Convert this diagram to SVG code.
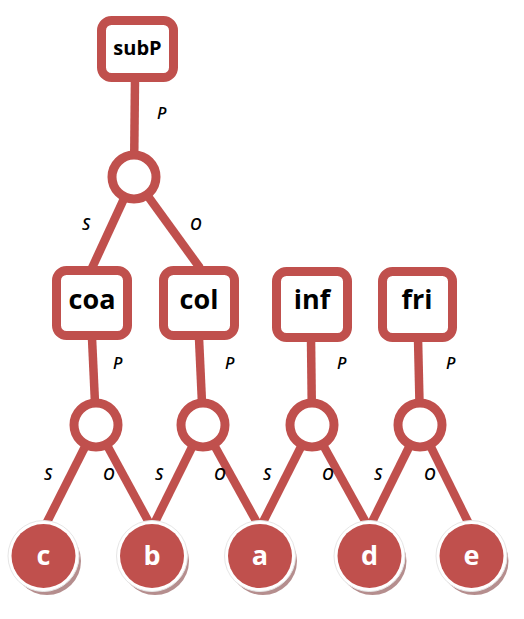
<svg xmlns="http://www.w3.org/2000/svg" width="524" height="619" viewBox="0 0 524 619">
<style>
.edge{stroke:#C0504D;stroke-width:8.5;fill:none;stroke-linecap:butt}
.box{fill:#fff;stroke:#C0504D;stroke-width:9}
.join{fill:#fff;stroke:#C0504D;stroke-width:9}
.lbl{font-family:"Open Sans","Liberation Sans",sans-serif;font-weight:bold;fill:#000;text-anchor:middle}
.ent{font-family:"Open Sans","Liberation Sans",sans-serif;font-weight:bold;fill:#fff;font-size:27px;text-anchor:middle}
.el{font-family:"Open Sans","Liberation Sans",sans-serif;font-style:italic;font-weight:600;font-size:16px;fill:#000}
.shadow{fill:#b58e8e}
.ring{fill:#fff;stroke:#e6e6e6;stroke-width:1}
.disc{fill:#C0504D}
</style>
<rect width="524" height="619" fill="#fff"/>
<g id="connectors">
<line class="edge" x1="135" y1="78" x2="134" y2="177"/>
<line class="edge" x1="134" y1="177" x2="92" y2="268"/>
<line class="edge" x1="134" y1="177" x2="200" y2="268"/>
<line class="edge" x1="92" y1="338" x2="96" y2="425"/>
<line class="edge" x1="199" y1="338" x2="203" y2="425"/>
<line class="edge" x1="311" y1="338" x2="312" y2="425"/>
<line class="edge" x1="418" y1="338" x2="420" y2="425"/>
<line class="edge" x1="96" y1="425" x2="44" y2="528"/>
<line class="edge" x1="96" y1="425" x2="152" y2="528"/>
<line class="edge" x1="203" y1="425" x2="152" y2="528"/>
<line class="edge" x1="203" y1="425" x2="260" y2="528"/>
<line class="edge" x1="312" y1="425" x2="260" y2="528"/>
<line class="edge" x1="312" y1="425" x2="369" y2="528"/>
<line class="edge" x1="420" y1="425" x2="369" y2="528"/>
<line class="edge" x1="420" y1="425" x2="471" y2="528"/>
<text class="el" x="157" y="119">P</text>
<text class="el" x="82" y="230">S</text>
<text class="el" x="190" y="230">O</text>
<text class="el" x="113" y="369">P</text>
<text class="el" x="225" y="369">P</text>
<text class="el" x="337" y="369">P</text>
<text class="el" x="446" y="369">P</text>
<text class="el" x="44" y="480">S</text>
<text class="el" x="103" y="480">O</text>
<text class="el" x="155" y="480">S</text>
<text class="el" x="214" y="480">O</text>
<text class="el" x="263" y="480">S</text>
<text class="el" x="322" y="480">O</text>
<text class="el" x="374" y="480">S</text>
<text class="el" x="424" y="480">O</text>
</g>
<g id="subP"><rect class="box" x="101.5" y="20.5" width="72" height="57" rx="10"/><text class="lbl" x="137.5" y="55" font-size="20">subP</text></g>
<g id="j0"><circle class="join" cx="134" cy="177" r="22"/></g>
<g id="coa"><rect class="box" x="56.5" y="270.5" width="71" height="65" rx="10"/><text class="lbl" x="92" y="309" font-size="27">coa</text></g>
<g id="col"><rect class="box" x="163.5" y="270.5" width="71" height="65" rx="10"/><text class="lbl" x="199" y="309" font-size="27">col</text></g>
<g id="inf"><rect class="box" x="276.5" y="271.5" width="71" height="66" rx="10"/><text class="lbl" x="312" y="309" font-size="27">inf</text></g>
<g id="fri"><rect class="box" x="382.5" y="271.5" width="70" height="66" rx="10"/><text class="lbl" x="417" y="309" font-size="27">fri</text></g>
<g id="j1"><circle class="join" cx="96" cy="425" r="22"/></g>
<g id="j2"><circle class="join" cx="203" cy="425" r="22"/></g>
<g id="j3"><circle class="join" cx="312" cy="425" r="22"/></g>
<g id="j4"><circle class="join" cx="420" cy="425" r="22"/></g>
<g id="c"><circle class="shadow" cx="47" cy="561" r="34"/><circle class="ring" cx="43.5" cy="556" r="35.5"/><circle class="disc" cx="43.5" cy="556" r="32"/><text class="ent" x="43.5" y="565">c</text></g>
<g id="b"><circle class="shadow" cx="155" cy="561" r="34"/><circle class="ring" cx="152" cy="556" r="35.5"/><circle class="disc" cx="152" cy="556" r="32"/><text class="ent" x="152" y="565">b</text></g>
<g id="a"><circle class="shadow" cx="263" cy="561" r="34"/><circle class="ring" cx="260" cy="556" r="35.5"/><circle class="disc" cx="260" cy="556" r="32"/><text class="ent" x="260" y="565">a</text></g>
<g id="d"><circle class="shadow" cx="372.5" cy="561" r="34"/><circle class="ring" cx="369.5" cy="556" r="35.5"/><circle class="disc" cx="369.5" cy="556" r="32"/><text class="ent" x="369.5" y="565">d</text></g>
<g id="e"><circle class="shadow" cx="474.5" cy="561" r="34"/><circle class="ring" cx="471.5" cy="556" r="35.5"/><circle class="disc" cx="471.5" cy="556" r="32"/><text class="ent" x="471.5" y="565">e</text></g>
</svg>
